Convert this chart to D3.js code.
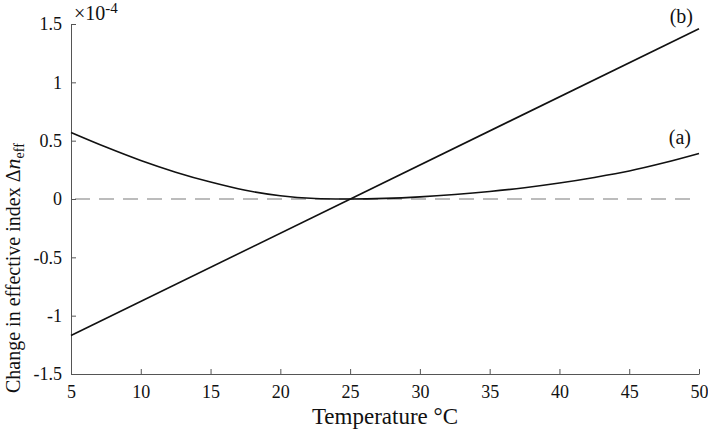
<!DOCTYPE html>
<html>
<head>
<meta charset="utf-8">
<script src="https://cdn.jsdelivr.net/npm/d3@7/dist/d3.min.js"></script>
<style>
  body { margin: 0; background: #fff; }
  text { font-family: "Liberation Serif", "DejaVu Serif", serif; fill: #111; }
</style>
</head>
<body>
<svg id="chart" width="708" height="433"></svg>
<script>
// curve (a): change in effective index vs temperature, units of 1e-4
var tempsA  = [5, 7.5, 10, 12.5, 15, 17.5, 20, 22.5, 25, 27.5, 30, 32.5, 35, 37.5, 40, 42.5, 45, 47.5, 50];
var valuesA = [0.57, 0.445, 0.33, 0.23, 0.145, 0.075, 0.028, 0.004, 0, 0.005, 0.018, 0.038, 0.064, 0.097, 0.137, 0.185, 0.24, 0.31, 0.39];
// curve (b): straight line
var tempsB  = [5, 50];
var valuesB = [-1.17, 1.46];

var xTicks = [5, 10, 15, 20, 25, 30, 35, 40, 45, 50];
var yTicks = [-1.5, -1, -0.5, 0, 0.5, 1, 1.5];

var svg = d3.select("#chart");
var margin = {left: 71, right: 9, top: 24, bottom: 59};
var W = 708, H = 433;

var x = d3.scaleLinear().domain([5, 50]).range([margin.left, W - margin.right]);
var y = d3.scaleLinear().domain([-1.5, 1.5]).range([H - margin.bottom, margin.top]);

// dashed zero line
svg.append("line")
    .attr("x1", x(5) + 4).attr("x2", x(50) - 8)
    .attr("y1", y(0)).attr("y2", y(0))
    .attr("stroke", "#7a7a7a")
    .attr("stroke-width", 1.2)
    .attr("stroke-dasharray", "15,9")

// axes, ticks pointing inward
var xAxis = svg.append("g")
    .attr("transform", "translate(0," + y(-1.5) + ")")
    .call(d3.axisBottom(x).tickValues(xTicks).tickSizeInner(-5).tickSizeOuter(0).tickPadding(11).tickFormat(d3.format("d")))
var yAxis = svg.append("g")
    .attr("transform", "translate(" + x(5) + ",0)")
    .call(d3.axisLeft(y).tickValues(yTicks).tickSizeInner(-5).tickSizeOuter(0).tickPadding(9).tickFormat(function(d){ return String(d) }))

svg.selectAll(".domain").attr("stroke", "#555")
svg.selectAll(".tick line").attr("stroke", "#555")
svg.selectAll(".tick text").style("font-size", "18px").attr("fill", "#111")

// curves
var lineA = d3.line().x(function(d){ return x(d[0]) }).y(function(d){ return y(d[1]) }).curve(d3.curveCatmullRom.alpha(0.5));
svg.append("path")
    .datum(d3.zip(tempsA, valuesA))
    .attr("d", lineA)
    .attr("fill", "none")
    .attr("stroke", "#111")
    .attr("stroke-width", 1.6)

svg.append("path")
    .datum(d3.zip(tempsB, valuesB))
    .attr("d", d3.line().x(function(d){ return x(d[0]) }).y(function(d){ return y(d[1]) }))
    .attr("fill", "none")
    .attr("stroke", "#111")
    .attr("stroke-width", 1.6)

// curve labels
svg.append("text").attr("x", x(50) - 8).attr("y", y(valuesA[valuesA.length - 1]) - 10)
    .attr("text-anchor", "end").style("font-size", "20px").text("(a)")
svg.append("text").attr("x", x(50) - 6).attr("y", 23)
    .attr("text-anchor", "end").style("font-size", "20px").text("(b)")

// exponent
var ex = svg.append("text").attr("x", x(5) + 3).attr("y", 20).style("font-size", "20px")
ex.append("tspan").text("\u00d710")
ex.append("tspan").attr("dy", -7).style("font-size", "15px").text("-4")

// axis titles
svg.append("text")
    .attr("x", (x(5) + x(50)) / 2).attr("y", 424)
    .attr("text-anchor", "middle").style("font-size", "23px")
    .text("Temperature \u00b0C")

var yl = svg.append("text")
    .attr("transform", "translate(20,393) rotate(-90)")
    .attr("text-anchor", "start").style("font-size", "20px")
yl.append("tspan").text("Change in effective index \u0394")
yl.append("tspan").style("font-style", "italic").style("font-size", "22px").text("n")
yl.append("tspan").attr("dy", 4).style("font-size", "14px").text("eff")
</script>
</body>
</html>
